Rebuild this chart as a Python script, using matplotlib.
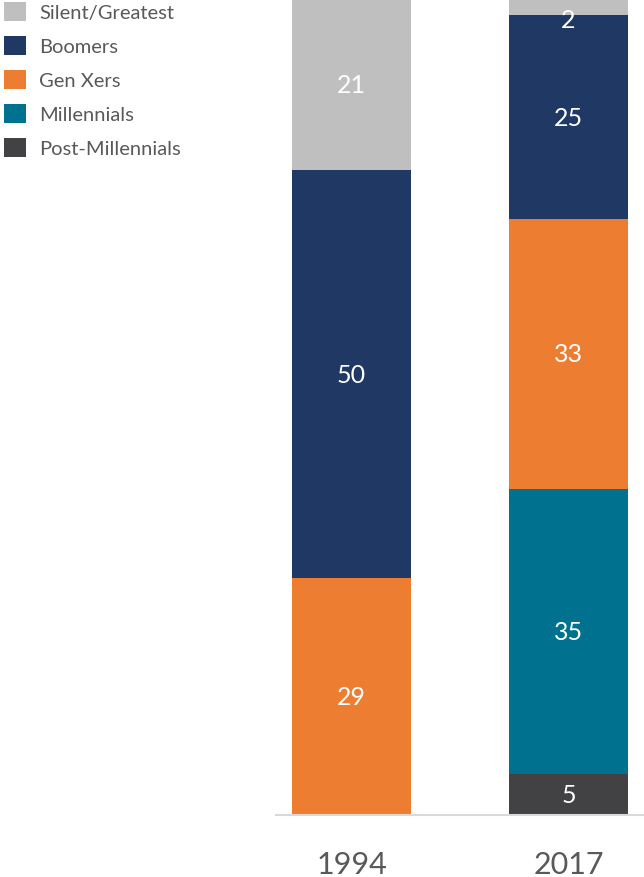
import numpy as np
import matplotlib.pyplot as plt
from matplotlib.patches import Patch

# Data
years = ['1994', '2017']
generations = ['Silent/Greatest', 'Boomers', 'Gen Xers', 'Millennials', 'Post-Millennials']
# values stacked from bottom: Post-Millennials, Millennials, Gen Xers, Boomers, Silent
post_millennials = [0, 5]
millennials = [0, 35]
gen_xers = [29, 33]
boomers = [50, 25]
silent = [21, 2]

colors = {
    'Silent/Greatest': '#BFBFBF',
    'Boomers': '#1F3864',
    'Gen Xers': '#ED7D31',
    'Millennials': '#00718F',
    'Post-Millennials': '#424244',
}

plt.rcParams['font.family'] = ['Lato', 'DejaVu Sans']

fig = plt.figure(figsize=(6.44, 8.78), dpi=100)
ax = fig.add_axes([276 / 644, 62 / 878, 368 / 644, 816 / 878])

x = np.arange(len(years))
width = 0.548
stack = [('Post-Millennials', post_millennials), ('Millennials', millennials),
         ('Gen Xers', gen_xers), ('Boomers', boomers), ('Silent/Greatest', silent)]

bottom = np.zeros(len(years))
for name, vals in stack:
    vals = np.array(vals, dtype=float)
    ax.bar(x, vals, width, bottom=bottom, color=colors[name], linewidth=0)
    for i, v in enumerate(vals):
        if v > 0:
            yc = min(bottom[i] + v / 2, 97.5)
            ax.text(x[i], yc, f'{int(v)}', ha='center', va='center',
                    color='white', fontsize=18)
    bottom += vals

ax.set_xlim(-0.348, 1.348)
ax.set_ylim(0, 100)
ax.set_xticks(x)
ax.set_xticklabels(years, fontsize=22, color='#595959')
ax.tick_params(axis='x', length=0, pad=25)
ax.set_yticks([])
for s in ['top', 'right', 'left']:
    ax.spines[s].set_visible(False)
ax.spines['bottom'].set_color('#D9D9D9')
ax.spines['bottom'].set_linewidth(1.5)

handles = [Patch(facecolor=colors[g], edgecolor='none') for g in generations]
leg = fig.legend(handles, generations, loc='upper left', bbox_to_anchor=(-0.006, 1.006),
                 frameon=False, fontsize=14.5, handlelength=1.1, handleheight=1.1,
                 labelspacing=0.72, handletextpad=0.65, borderaxespad=0)
for t in leg.get_texts():
    t.set_color('#595959')

fig.savefig('out.png', dpi=100)
